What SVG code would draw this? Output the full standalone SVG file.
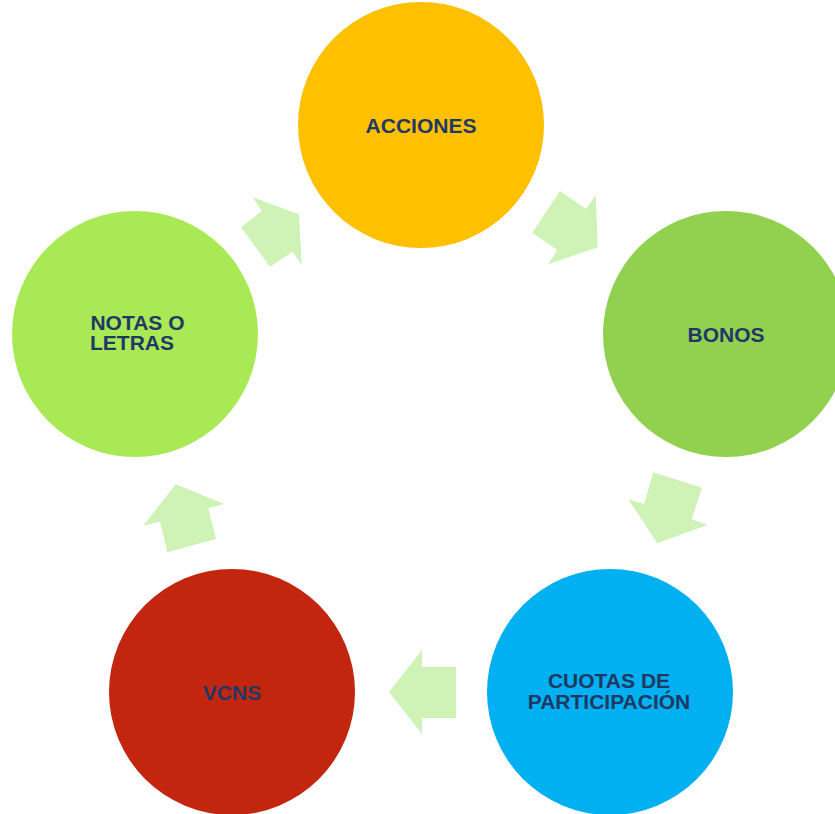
<svg xmlns="http://www.w3.org/2000/svg" width="835" height="814" viewBox="0 0 835 814">
<style>
.lbl{font-family:"Liberation Sans",Arial,sans-serif;font-weight:bold;font-size:21px;fill:#1f3864;text-anchor:middle}
.arr{fill:#cff2b6}
</style>
<rect width="835" height="814" fill="#ffffff"/>
<g id="connectors">
<polygon class="arr" points="241,227.3 261.7,211 252.7,197.3 299,214.3 301.7,265 292.7,251.7 270,266.7"/>
<polygon class="arr" points="560,191 586,209 595.7,195 597.7,247.3 548.3,264.3 557.3,250 532.3,232.7"/>
<polygon class="arr" points="653.3,472.3 702,487.7 691.7,519.3 707.3,525 657.3,543.3 628.3,499 644,504"/>
<polygon class="arr" points="456,667 422,667 422,650 389,692 422,734 422,718 456,718"/>
<polygon class="arr" points="167.3,552.3 160,521.7 143.3,525.7 175.7,484.3 224.3,504 208.3,508.3 216,539"/>
</g>
<g id="acciones">
<circle cx="421" cy="125" r="123" fill="#ffc000"/>
<text class="lbl" x="421" y="132.5">ACCIONES</text>
</g>
<g id="bonos">
<circle cx="726" cy="334" r="123" fill="#92d050"/>
<text class="lbl" x="726" y="341.5">BONOS</text>
</g>
<g id="cuotas">
<circle cx="610" cy="692" r="123" fill="#00b0f0"/>
<text class="lbl" x="609" y="687.5">CUOTAS DE</text>
<text class="lbl" x="609" y="708.5">PARTICIPACIÓN</text>
</g>
<g id="vcns">
<circle cx="232" cy="692" r="123" fill="#c3260e"/>
<text class="lbl" x="232" y="699.5">VCNS</text>
</g>
<g id="notas">
<circle cx="135" cy="334" r="123" fill="#a9e955"/>
<text class="lbl" x="137.5" y="329.5">NOTAS O</text>
<text class="lbl" x="132" y="350">LETRAS</text>
</g>
</svg>
